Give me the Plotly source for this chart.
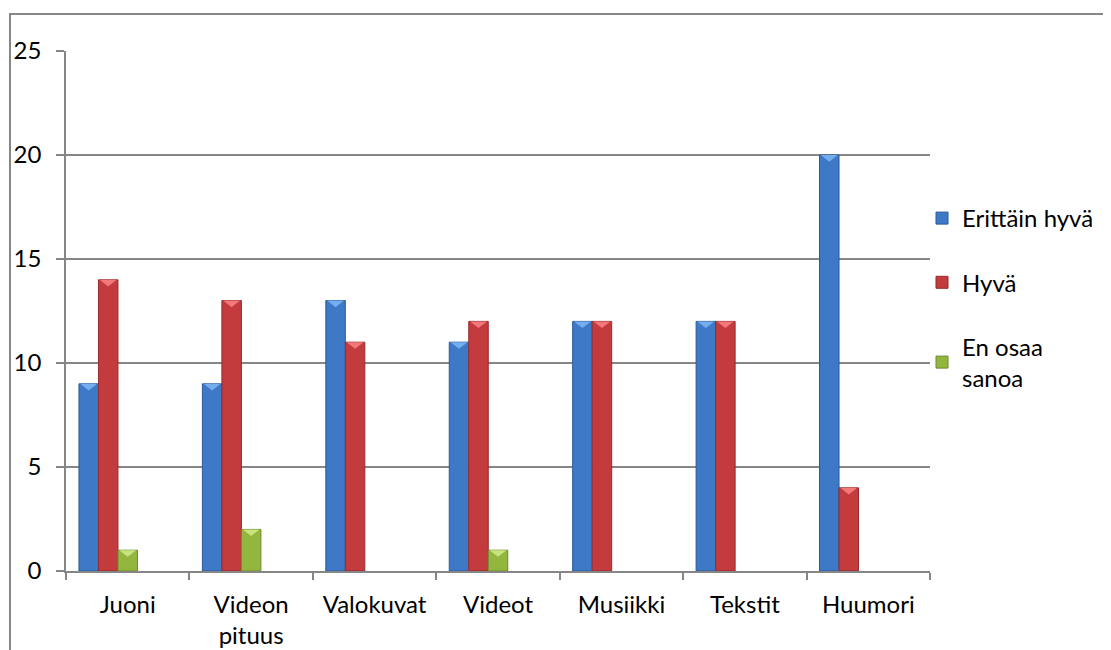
import plotly.graph_objects as go

categories = ["Juoni", "Videon<br>pituus", "Valokuvat", "Videot", "Musiikki", "Tekstit", "Huumori"]
series_names = ["Erittäin hyvä", "Hyvä", "En osaa<br>sanoa"]
erittain_hyva = [9, 9, 13, 11, 12, 12, 20]
hyva = [14, 13, 11, 12, 12, 12, 4]
en_osaa_sanoa = [1, 2, 0, 1, 0, 0, 0]

values = [erittain_hyva, hyva, en_osaa_sanoa]
colors = ["#3D79C6", "#C33B3D", "#93B63E"]
edge_colors = ["#2B5B9C", "#962B2D", "#6C8A2A"]
bevel_colors = ["#74AEEE", "#F2787A", "#C9E47E"]
bar_width = 0.158
offsets = [-0.395, -0.237, -0.079]

FONT = "Lato, Calibri, sans-serif"
FS = 24

# page has an 8px body margin; figure coords = page coords - 8
W, H = 1103, 642
L, T, R, B = 58, 43, 1103 - 922, 642 - 563
PW, PH = 922 - L, 563 - T

fig = go.Figure()
shapes = []
for i, (name, vals) in enumerate(zip(series_names, values)):
    fig.add_trace(go.Bar(
        name=name,
        x=categories,
        y=[v if v else None for v in vals],
        width=bar_width,
        offset=offsets[i],
        marker=dict(color=colors[i], line=dict(color=edge_colors[i], width=1)),
        legendgroup=str(i),
    ))
    for j, v in enumerate(vals):
        if v:
            x0 = j + offsets[i]
            x1 = x0 + bar_width
            xc = (x0 + x1) / 2
            shapes.append(dict(
                type="path", xref="x", yref="y",
                path=f"M {x0+0.01},{v} L {x1-0.01},{v} L {xc},{v-0.32} Z",
                fillcolor=bevel_colors[i], line=dict(width=0), layer="above",
            ))

# outer chart border (cut off at right and bottom like the reference)
shapes.append(dict(
    type="rect", xref="paper", yref="paper",
    x0=(2 - L) / PW, x1=(1110 - L) / PW,
    y0=(563 - 700) / PH, y1=(563 - 6) / PH,
    line=dict(color="#878787", width=2), fillcolor="rgba(0,0,0,0)", layer="below",
))

fig.update_layout(
    width=W, height=H,
    margin=dict(l=L, r=R, t=T, b=B, autoexpand=False),
    paper_bgcolor="white", plot_bgcolor="white",
    font=dict(family=FONT, size=FS, color="black"),
    barmode="overlay",
    showlegend=True,
    legend=dict(
        x=(914 - L) / PW, xanchor="left",
        y=(563 - 188) / PH, yanchor="top",
        traceorder="grouped", tracegroupgap=30,
        font=dict(family=FONT, size=FS, color="black"),
        bgcolor="rgba(0,0,0,0)",
    ),
    shapes=shapes,
)
fig.update_xaxes(
    type="category",
    range=[-0.5, 6.5],
    automargin=False,
    showline=True, linecolor="#868686", linewidth=1.5,
    ticks="outside", tickson="boundaries", ticklen=7, tickcolor="#868686", tickwidth=1.5,
    showgrid=False,
    ticklabelstandoff=11,
    tickfont=dict(family=FONT, size=FS, color="black"),
)
fig.update_yaxes(
    range=[0, 25], dtick=5,
    automargin=False,
    showline=True, linecolor="#868686", linewidth=1.5,
    ticks="outside", ticklen=8, tickcolor="#868686", tickwidth=1.5,
    showgrid=True, gridcolor="#868686", gridwidth=1.5,
    zeroline=False,
    ticklabelstandoff=10,
    tickfont=dict(family=FONT, size=FS, color="black"),
)

fig.write_html("out.html")
